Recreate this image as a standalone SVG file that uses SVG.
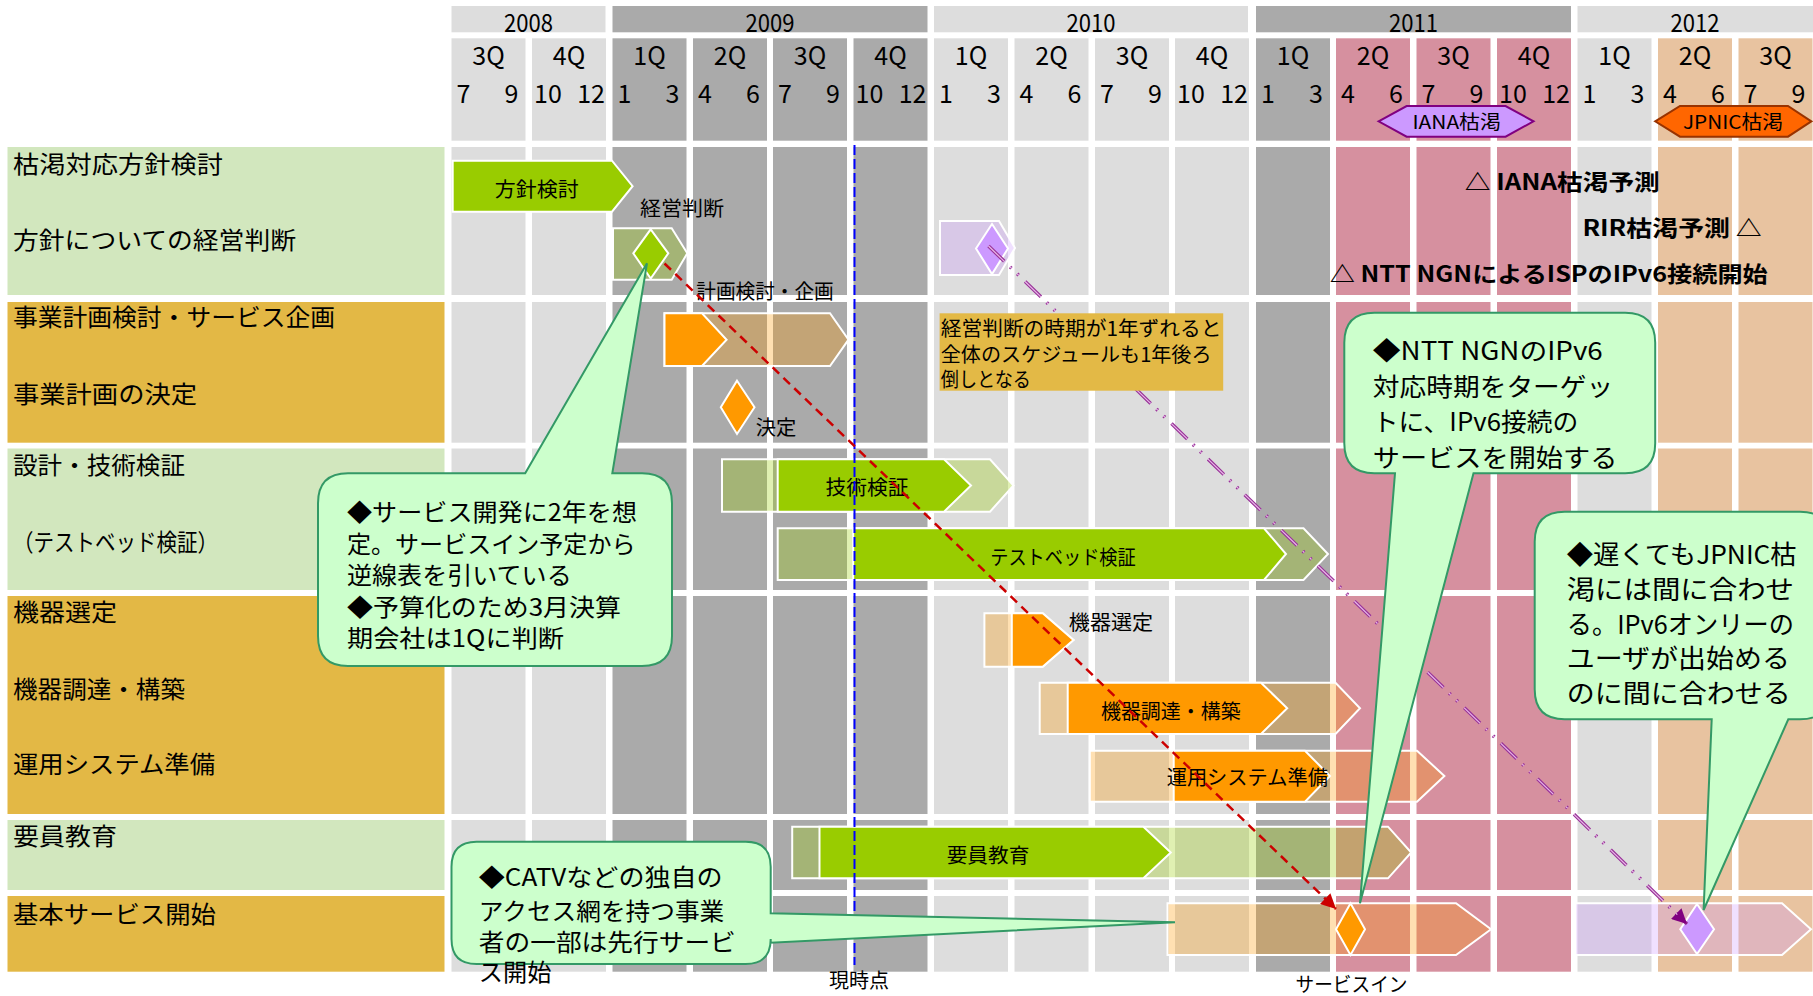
<svg xmlns="http://www.w3.org/2000/svg" width="1813" height="996" viewBox="0 0 1813 996">
<style>
text{font-family:"Noto Sans CJK JP","Noto Sans",sans-serif;fill:#000}
.hd{font-family:"Liberation Sans",Arial,sans-serif;font-size:25px}
.lb{font-size:24px}
.br{font-size:20px}
.an{font-size:22px;font-weight:bold}
.L{fill:#dddddd}.D{fill:#aaaaaa}.P{fill:#d6909f}.E{fill:#e8c3a0}
.lg{fill:#d2e7be}.lo{fill:#e3b845}
.w{stroke:#ffffff;stroke-width:2}
.gG{fill:#99cc00;fill-opacity:0.3}.sG{fill:#99cc00}
.gO{fill:#ff9900;fill-opacity:0.3}.sO{fill:#ff9900}
.gV{fill:#cc99ff;fill-opacity:0.3}.sV{fill:#cc99ff}
.cl{fill:#ccffcc;stroke:#339966;stroke-width:2}
</style>
<defs>
<marker id="aR" viewBox="0 0 10 10" refX="10" refY="5" markerWidth="16" markerHeight="15" markerUnits="userSpaceOnUse" orient="auto"><path d="M0,0 L10,5 L0,10 z" fill="#cc0000"/></marker>
<marker id="aV" viewBox="0 0 10 10" refX="10" refY="5" markerWidth="16" markerHeight="15" markerUnits="userSpaceOnUse" orient="auto"><path d="M0,0 L10,5 L0,10 z" fill="#800080"/></marker>
</defs>
<rect width="1813" height="996" fill="#ffffff"/>
<g id="years">
<rect class="L" x="451.5" y="6" width="154" height="26.3"/>
<rect class="D" x="612.5" y="6" width="315" height="26.3"/>
<rect class="L" x="934" y="6" width="314" height="26.3"/>
<rect class="D" x="1256" y="6" width="315" height="26.3"/>
<rect class="L" x="1577.5" y="6" width="236" height="26.3"/>
<g class="hd" text-anchor="middle">
<text x="528.5" y="31.5" textLength="49" lengthAdjust="spacingAndGlyphs">2008</text>
<text x="770" y="31.5" textLength="49" lengthAdjust="spacingAndGlyphs">2009</text>
<text x="1091" y="31.5" textLength="49" lengthAdjust="spacingAndGlyphs">2010</text>
<text x="1413.5" y="31.5" textLength="49" lengthAdjust="spacingAndGlyphs">2011</text>
<text x="1695" y="31.5" textLength="49" lengthAdjust="spacingAndGlyphs">2012</text>
</g>
</g>
<g id="grid">
<rect class="L" x="451.5" y="38.3" width="74" height="102.4"/><rect class="L" x="451.5" y="147" width="74" height="824.7"/>
<rect class="L" x="532" y="38.3" width="74" height="102.4"/><rect class="L" x="532" y="147" width="74" height="824.7"/>
<rect class="D" x="612.5" y="38.3" width="74" height="102.4"/><rect class="D" x="612.5" y="147" width="74" height="824.7"/>
<rect class="D" x="693" y="38.3" width="74" height="102.4"/><rect class="D" x="693" y="147" width="74" height="824.7"/>
<rect class="D" x="773" y="38.3" width="74" height="102.4"/><rect class="D" x="773" y="147" width="74" height="824.7"/>
<rect class="D" x="853.5" y="38.3" width="74" height="102.4"/><rect class="D" x="853.5" y="147" width="74" height="824.7"/>
<rect class="L" x="934" y="38.3" width="74" height="102.4"/><rect class="L" x="934" y="147" width="74" height="824.7"/>
<rect class="L" x="1014.5" y="38.3" width="74" height="102.4"/><rect class="L" x="1014.5" y="147" width="74" height="824.7"/>
<rect class="L" x="1095" y="38.3" width="74" height="102.4"/><rect class="L" x="1095" y="147" width="74" height="824.7"/>
<rect class="L" x="1175" y="38.3" width="74" height="102.4"/><rect class="L" x="1175" y="147" width="74" height="824.7"/>
<rect class="D" x="1256" y="38.3" width="74" height="102.4"/><rect class="D" x="1256" y="147" width="74" height="824.7"/>
<rect class="P" x="1336" y="38.3" width="74" height="102.4"/><rect class="P" x="1336" y="147" width="74" height="824.7"/>
<rect class="P" x="1416.5" y="38.3" width="74" height="102.4"/><rect class="P" x="1416.5" y="147" width="74" height="824.7"/>
<rect class="P" x="1497" y="38.3" width="74" height="102.4"/><rect class="P" x="1497" y="147" width="74" height="824.7"/>
<rect class="L" x="1577.5" y="38.3" width="74" height="102.4"/><rect class="L" x="1577.5" y="147" width="74" height="824.7"/>
<rect class="E" x="1658" y="38.3" width="74" height="102.4"/><rect class="E" x="1658" y="147" width="74" height="824.7"/>
<rect class="E" x="1738.5" y="38.3" width="74" height="102.4"/><rect class="E" x="1738.5" y="147" width="74" height="824.7"/>
<g fill="#ffffff">
<rect x="450" y="295" width="1363" height="7"/>
<rect x="450" y="442.7" width="1363" height="5.8"/>
<rect x="450" y="590" width="1363" height="6"/>
<rect x="450" y="814" width="1363" height="6"/>
<rect x="450" y="890" width="1363" height="6"/>
</g>
<g class="hd" text-anchor="middle">
<text x="488.5" y="65">3Q</text><text x="569" y="65">4Q</text><text x="649.5" y="65">1Q</text><text x="730" y="65">2Q</text>
<text x="810" y="65">3Q</text><text x="890.5" y="65">4Q</text><text x="971" y="65">1Q</text><text x="1051.5" y="65">2Q</text>
<text x="1132" y="65">3Q</text><text x="1212" y="65">4Q</text><text x="1293" y="65">1Q</text><text x="1373" y="65">2Q</text>
<text x="1453.5" y="65">3Q</text><text x="1534" y="65">4Q</text><text x="1614.5" y="65">1Q</text><text x="1695" y="65">2Q</text>
<text x="1775.5" y="65">3Q</text>
</g>
<g class="hd">
<text x="456.5" y="103.3">7</text><text x="534" y="103.3">10</text><text x="617.5" y="103.3">1</text><text x="698" y="103.3">4</text>
<text x="778" y="103.3">7</text><text x="855.5" y="103.3">10</text><text x="939" y="103.3">1</text><text x="1019.5" y="103.3">4</text>
<text x="1100" y="103.3">7</text><text x="1177" y="103.3">10</text><text x="1261" y="103.3">1</text><text x="1341" y="103.3">4</text>
<text x="1421.5" y="103.3">7</text><text x="1499" y="103.3">10</text><text x="1582.5" y="103.3">1</text><text x="1663" y="103.3">4</text>
<text x="1743.5" y="103.3">7</text>
</g>
<g class="hd" text-anchor="end">
<text x="518.5" y="103.3">9</text><text x="605" y="103.3">12</text><text x="679.5" y="103.3">3</text><text x="760" y="103.3">6</text>
<text x="840" y="103.3">9</text><text x="926.5" y="103.3">12</text><text x="1001" y="103.3">3</text><text x="1081.5" y="103.3">6</text>
<text x="1162" y="103.3">9</text><text x="1248" y="103.3">12</text><text x="1323" y="103.3">3</text><text x="1403" y="103.3">6</text>
<text x="1483.5" y="103.3">9</text><text x="1570" y="103.3">12</text><text x="1644.5" y="103.3">3</text><text x="1725" y="103.3">6</text>
<text x="1805.5" y="103.3">9</text>
</g>
</g>
<g id="row-labels">
<rect class="lg" x="7.5" y="147" width="437" height="148"/>
<rect class="lo" x="7.5" y="302" width="437" height="140.7"/>
<rect class="lg" x="7.5" y="448.5" width="437" height="141.5"/>
<rect class="lo" x="7.5" y="596" width="437" height="218"/>
<rect class="lg" x="7.5" y="820" width="437" height="70"/>
<rect class="lo" x="7.5" y="896" width="437" height="75.7"/>
<g class="lb">
<text x="13" y="172.5" textLength="210" lengthAdjust="spacingAndGlyphs">枯渇対応方針検討</text>
<text x="13" y="248.5" textLength="283" lengthAdjust="spacingAndGlyphs">方針についての経営判断</text>
<text x="13" y="326" textLength="322" lengthAdjust="spacingAndGlyphs">事業計画検討・サービス企画</text>
<text x="13" y="403" textLength="184" lengthAdjust="spacingAndGlyphs">事業計画の決定</text>
<text x="13" y="474" textLength="172" lengthAdjust="spacingAndGlyphs">設計・技術検証</text>
<text x="13" y="550.5" textLength="205" lengthAdjust="spacingAndGlyphs">（テストベッド検証）</text>
<text x="13" y="621" textLength="104" lengthAdjust="spacingAndGlyphs">機器選定</text>
<text x="13" y="697.5" textLength="172" lengthAdjust="spacingAndGlyphs">機器調達・構築</text>
<text x="13" y="773" textLength="202" lengthAdjust="spacingAndGlyphs">運用システム準備</text>
<text x="13" y="845" textLength="104" lengthAdjust="spacingAndGlyphs">要員教育</text>
<text x="13" y="922.5" textLength="203" lengthAdjust="spacingAndGlyphs">基本サービス開始</text>
</g>
</g>
<g id="milestone-iana">
<polygon points="1378.6,121.3 1406.6,106 1505.6,106 1533.5,121.3 1505.6,136.7 1406.6,136.7" fill="#cc99ff" stroke="#800080" stroke-width="2"/>
<text x="1456.7" y="128.5" font-size="19" text-anchor="middle" textLength="88.5" lengthAdjust="spacingAndGlyphs">IANA枯渇</text>
</g>
<g id="milestone-jpnic">
<polygon points="1655.2,121.3 1680,106 1788,106 1811.3,121.3 1788,136.7 1680,136.7" fill="#ff6600" stroke="#993300" stroke-width="2"/>
<text x="1733" y="128.5" font-size="19" text-anchor="middle" textLength="100" lengthAdjust="spacingAndGlyphs">JPNIC枯渇</text>
</g>
<g id="task-houshin">
<polygon class="sG w" points="452.7,160.7 612,160.7 632.6,186.2 612,211.7 452.7,211.7"/>
<text class="br" x="536.8" y="196.5" text-anchor="middle" textLength="84" lengthAdjust="spacingAndGlyphs">方針検討</text>
</g>
<g id="task-keiei">
<polygon class="gG w" points="613,228.3 671.7,228.3 687.3,253.3 671.7,279.7 613,279.7"/>
<polygon class="sG w" points="650.7,229.3 668.3,253.3 650.7,278.5 633.3,253.3"/>
<text class="br" x="682" y="215.5" text-anchor="middle" textLength="84" lengthAdjust="spacingAndGlyphs">経営判断</text>
</g>
<g id="task-keiei-late">
<polygon class="gV w" points="940,221 999,221 1015,248 999,275 940,275"/>
<polygon class="sV w" points="992,224 1008,248.5 992,274 976,248.5"/>
</g>
<g id="annotations">
<text class="an" x="1464.8" y="190" textLength="195" lengthAdjust="spacingAndGlyphs">△ IANA枯渇予測</text>
<text class="an" x="1582.4" y="235.5" textLength="179.4" lengthAdjust="spacingAndGlyphs">RIR枯渇予測 △</text>
<text class="an" x="1329.7" y="281.5" textLength="438" lengthAdjust="spacingAndGlyphs">△ NTT NGNによるISPのIPv6接続開始</text>
</g>
<g id="task-keikaku">
<polygon class="gO w" points="664.5,313.3 830,313.3 848.5,339.7 830,366 664.5,366"/>
<polygon class="sO w" points="664.5,313.3 702,313.3 726.6,339.7 702,366 664.5,366"/>
<text class="br" x="765" y="298.5" text-anchor="middle" textLength="137.5" lengthAdjust="spacingAndGlyphs">計画検討・企画</text>
</g>
<g id="task-kettei">
<polygon class="sO w" points="737,380.7 754.5,407.3 737,434 720.8,407.3"/>
<text class="br" x="776" y="434.5" text-anchor="middle" textLength="40.6" lengthAdjust="spacingAndGlyphs">決定</text>
</g>
<g id="task-gijutsu">
<polygon class="gG w" points="722,459.3 990,459.3 1013.5,485.5 990,511.7 722,511.7"/>
<polygon class="sG w" points="777.7,459.3 944,459.3 971,485.5 944,511.7 777.7,511.7"/>
<text class="br" x="867" y="494.5" text-anchor="middle" textLength="83" lengthAdjust="spacingAndGlyphs">技術検証</text>
</g>
<g id="task-testbed">
<polygon class="gG w" points="777.7,528.3 1303.5,528.3 1328,554 1303.5,580 777.7,580"/>
<polygon class="sG w" points="853.2,528.3 1264,528.3 1286,554 1264,580 853.2,580"/>
<text class="br" x="1063" y="564.5" text-anchor="middle" textLength="145.5" lengthAdjust="spacingAndGlyphs">テストベッド検証</text>
</g>
<g id="task-kiki-sentei">
<polygon class="gO w" points="984.4,613.3 1042.7,613.3 1073.5,640 1042.7,666.7 984.4,666.7"/>
<polygon class="sO w" points="1011.8,613.3 1042.7,613.3 1073.5,640 1042.7,666.7 1011.8,666.7"/>
<text class="br" x="1111" y="629.5" text-anchor="middle" textLength="84.4" lengthAdjust="spacingAndGlyphs">機器選定</text>
</g>
<g id="task-kiki-chotatsu">
<polygon class="gO w" points="1039.7,682.7 1335.5,682.7 1360,708.3 1335.5,734 1039.7,734"/>
<polygon class="sO w" points="1067.7,682.7 1261,682.7 1287.2,708.3 1261,734 1067.7,734"/>
<text class="br" x="1170.8" y="718.5" text-anchor="middle" textLength="139.7" lengthAdjust="spacingAndGlyphs">機器調達・構築</text>
</g>
<g id="task-unyo">
<polygon class="gO w" points="1089.8,750.7 1417,750.7 1444.4,776 1417,801.7 1089.8,801.7"/>
<polygon class="sO w" points="1173.7,750.7 1305,750.7 1330,776 1305,801.7 1173.7,801.7"/>
<text class="br" x="1247.3" y="784.5" text-anchor="middle" textLength="161.3" lengthAdjust="spacingAndGlyphs">運用システム準備</text>
</g>
<g id="task-yoin">
<polygon class="gG w" points="792.2,826.7 1388,826.7 1411.2,852.5 1388,878.3 792.2,878.3"/>
<polygon class="sG w" points="819.5,826.7 1143.4,826.7 1170.8,852.5 1143.4,878.3 819.5,878.3"/>
<text class="br" x="988" y="862.8" text-anchor="middle" textLength="82.7" lengthAdjust="spacingAndGlyphs">要員教育</text>
</g>
<g id="task-service">
<polygon class="gO w" points="1167.5,903.3 1456,903.3 1491,929.3 1456,955 1167.5,955"/>
<polygon class="sO w" points="1350.5,903.3 1365,929.3 1350.5,955 1336,929.3"/>
<text class="br" x="1351.5" y="991.5" text-anchor="middle" textLength="112" lengthAdjust="spacingAndGlyphs">サービスイン</text>
</g>
<g id="task-service-late">
<polygon class="gV w" points="1575.4,903.3 1782,903.3 1811,929.3 1782,955 1575.4,955"/>
<polygon class="sV w" points="1697,904 1714,929.3 1697,954 1680.3,929.3"/>
</g>
<g id="connectors">
<line x1="854.5" y1="145" x2="854.5" y2="965" stroke="#0000ff" stroke-width="2" stroke-dasharray="10 4"/>
<path d="M664.5,263.5 L1336,909" fill="none" stroke="#cc0000" stroke-width="2.5" stroke-dasharray="9 6" marker-end="url(#aR)"/>
<path d="M988.5,246 L1687,924" fill="none" stroke="#993399" stroke-width="3.5" stroke-dasharray="22 8 2 8 2 9" marker-end="url(#aV)"/>
<path d="M988.5,246 L1680,917.3" fill="none" stroke="#e8b8e8" stroke-width="1.2" stroke-dasharray="22 8 2 8 2 9"/>
</g>
<g id="now-label">
<text class="br" x="859" y="988" text-anchor="middle" textLength="60" lengthAdjust="spacingAndGlyphs">現時点</text>
</g>
<g id="note-delay">
<rect x="939.6" y="313.3" width="283.6" height="77.4" fill="#e3b946"/>
<g class="br">
<text x="940.8" y="336" textLength="280.6" lengthAdjust="spacingAndGlyphs">経営判断の時期が1年ずれると</text>
<text x="940.8" y="362" textLength="270.7" lengthAdjust="spacingAndGlyphs">全体のスケジュールも1年後ろ</text>
<text x="940.8" y="387" textLength="90.2" lengthAdjust="spacingAndGlyphs">倒しとなる</text>
</g>
</g>
<g id="callout-dev">
<path class="cl" d="M348,473.3 L525.2,473.3 L647,263.3 L612.3,473.3 L642,473.3 Q672,473.3 672,503.3 L672,636 Q672,666 642,666 L348,666 Q318,666 318,636 L318,503.3 Q318,473.3 348,473.3 Z"/>
<g font-size="24">
<text x="347" y="521" textLength="290" lengthAdjust="spacingAndGlyphs">◆サービス開発に2年を想</text>
<text x="347" y="552.5" textLength="288.5" lengthAdjust="spacingAndGlyphs">定。サービスイン予定から</text>
<text x="347" y="584" textLength="224.7" lengthAdjust="spacingAndGlyphs">逆線表を引いている</text>
<text x="347" y="615.7" textLength="274" lengthAdjust="spacingAndGlyphs">◆予算化のため3月決算</text>
<text x="347" y="647.3" textLength="217" lengthAdjust="spacingAndGlyphs">期会社は1Qに判断</text>
</g>
</g>
<g id="callout-ntt">
<path class="cl" d="M1374.3,312.7 L1625.2,312.7 Q1655.2,312.7 1655.2,342.7 L1655.2,443.3 Q1655.2,473.3 1625.2,473.3 L1473.5,473.3 L1360,903.3 L1395,473.3 L1374.3,473.3 Q1344.3,473.3 1344.3,443.3 L1344.3,342.7 Q1344.3,312.7 1374.3,312.7 Z"/>
<g font-size="25">
<text x="1372.8" y="360" textLength="230" lengthAdjust="spacingAndGlyphs">◆NTT NGNのIPv6</text>
<text x="1372.8" y="395.5" textLength="240.5" lengthAdjust="spacingAndGlyphs">対応時期をターゲッ</text>
<text x="1372.8" y="431" textLength="205.5" lengthAdjust="spacingAndGlyphs">トに、IPv6接続の</text>
<text x="1372.8" y="466.5" textLength="244.6" lengthAdjust="spacingAndGlyphs">サービスを開始する</text>
</g>
</g>
<g id="callout-jpnic">
<path class="cl" d="M1564.7,511.7 L1800,511.7 Q1830,511.7 1830,541.7 L1830,689.3 Q1830,719.3 1800,719.3 L1788.3,719.3 L1703.6,910 L1711.7,719.3 L1564.7,719.3 Q1534.7,719.3 1534.7,689.3 L1534.7,541.7 Q1534.7,511.7 1564.7,511.7 Z"/>
<g font-size="26">
<text x="1566.7" y="564" textLength="230" lengthAdjust="spacingAndGlyphs">◆遅くてもJPNIC枯</text>
<text x="1566.7" y="599" textLength="227.3" lengthAdjust="spacingAndGlyphs">渇には間に合わせ</text>
<text x="1566.7" y="634" textLength="227.3" lengthAdjust="spacingAndGlyphs">る。IPv6オンリーの</text>
<text x="1566.7" y="667.5" textLength="223.3" lengthAdjust="spacingAndGlyphs">ユーザが出始める</text>
<text x="1566.7" y="702.5" textLength="224" lengthAdjust="spacingAndGlyphs">のに間に合わせる</text>
</g>
</g>
<g id="callout-catv">
<path class="cl" d="M476.5,841.7 L745.7,841.7 Q770.7,841.7 770.7,866.7 L770.7,913.3 L1175,922.3 L770.7,942.7 L770.7,939 Q770.7,964 745.7,964 L476.5,964 Q451.5,964 451.5,939 L451.5,866.7 Q451.5,841.7 476.5,841.7 Z"/>
<g font-size="24">
<text x="478.8" y="885.5" textLength="243.8" lengthAdjust="spacingAndGlyphs">◆CATVなどの独自の</text>
<text x="478.8" y="919.5" textLength="245.5" lengthAdjust="spacingAndGlyphs">アクセス網を持つ事業</text>
<text x="478.8" y="950.5" textLength="257" lengthAdjust="spacingAndGlyphs">者の一部は先行サービ</text>
<text x="478.8" y="981" textLength="72.6" lengthAdjust="spacingAndGlyphs">ス開始</text>
</g>
</g>
</svg>
